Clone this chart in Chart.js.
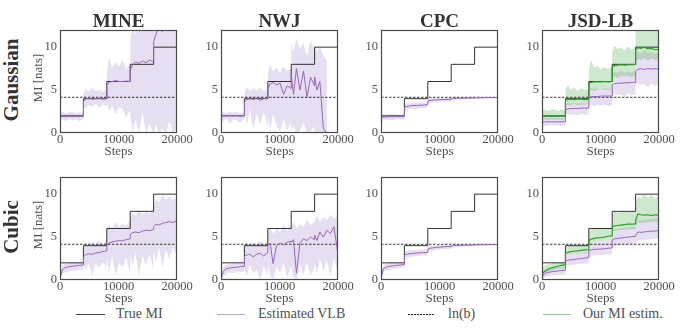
<!DOCTYPE html>
<html>
<head>
<meta charset="utf-8">
<script src="https://cdn.jsdelivr.net/npm/chart.js@4.4.1/dist/chart.umd.min.js"></script>
<style>
  body { margin: 0; background: #fff; }
  #fig { position: relative; width: 682px; height: 329px; overflow: hidden; font-family: 'Liberation Serif', serif; color: #333; }
  #fig canvas { position: absolute; }
  .lbl { position: absolute; white-space: nowrap; line-height: 1; transform: translate(-50%, -50%); }
  .title { font-weight: bold; font-size: 19px; }
  .row { font-weight: bold; font-size: 21px; transform: translate(-50%, -50%) rotate(-90deg); }
  .ylab { font-size: 13px; color: #505050; transform: translate(-50%, -50%) rotate(-90deg); }
  .sw { position: absolute; height: 1px; top: 314px; }
  .lt { position: absolute; top: 314px; font-size: 14px; color: #505050; line-height: 1; transform: translateY(-50%); white-space: nowrap; }
</style>
</head>
<body>
<div id="fig">
  <div class="sw" style="left:76px;width:29px;background:#444"></div>
  <div class="lt" style="left:116px">True MI</div>
  <div class="sw" style="left:217px;width:28px;background:#b9a2d6"></div>
  <div class="lt" style="left:258px">Estimated VLB</div>
  <div class="sw" style="left:408px;width:27px;background:repeating-linear-gradient(to right,#222 0 2px,transparent 2px 3px)"></div>
  <div class="lt" style="left:448px">ln(b)</div>
  <div class="sw" style="left:543px;width:28px;background:#8ccf8c"></div>
  <div class="lt" style="left:583px">Our MI estim.</div>
</div>
<script>
// Column titles and row labels
const methods = ['MINE', 'NWJ', 'CPC', 'JSD-LB'];
const distributions = ['Gaussian', 'Cubic'];

// Axis ticks
const xTicks = [0, 10000, 20000];
const yTicks = [0, 5, 10];

// True MI schedule (steps where the target MI changes)
const trueMiSteps = [0, 4000, 8000, 12000, 16000, 20000];
const trueMi = [2, 4, 6, 8, 10, 10];
const lnB = 4.16; // ln(64)

// Training steps at which the estimates are sampled
const steps = [0, 400, 900, 1500, 2100, 2700, 3300, 3990,
  4010, 4400, 4900, 5500, 6100, 6700, 7300, 7990,
  8010, 8400, 8900, 9500, 10100, 10700, 11300, 11990,
  12010, 12400, 12900, 13500, 14100, 14700, 15300, 15990,
  16010, 16400, 16900, 17500, 18100, 18700, 19300, 20000];

// Gaussian / MINE
const gaussMineVlb = [1.9, 1.95, 1.9, 1.95, 1.9, 1.95, 1.9, 1.95,
  3.7, 3.95, 4.05, 3.95, 4.0, 4.05, 3.95, 4.0,
  5.6, 5.9, 6.0, 6.1, 6.0, 6.0, 6.05, 6.0,
  7.3, 7.9, 8.3, 8.1, 8.4, 8.2, 8.5, 8.3,
  10.6, 11.5, 12.4, 11.8, 12.5, 12.2, 11.9, 12.3];
const gaussMineHi = [2.3, 2.5, 2.3, 2.4, 2.5, 2.3, 2.4, 2.3,
  4.6, 5.2, 4.8, 5.3, 4.9, 5.1, 4.8, 5.2,
  7.2, 8.8, 7.6, 8.2, 7.8, 8.5, 7.5, 8.0,
  10.5, 12.5, 11.5, 12.5, 12.5, 12.0, 12.5, 12.5,
  12.5, 12.5, 12.5, 12.5, 12.5, 12.5, 12.5, 12.5];
const gaussMineLo = [1.5, 1.6, 1.4, 1.6, 1.5, 1.6, 1.4, 1.6,
  3.2, 2.8, 3.3, 3.0, 3.4, 2.9, 3.3, 3.1,
  3.5, 2.5, 3.2, 2.2, 3.0, 2.8, 1.8, 2.6,
  2.0, 0, 1.5, 0, 2.5, 0, 1.0, 0,
  0, 1.0, 0, 0.5, 0, 1.5, 0, 0.5];

// Gaussian / NWJ (diverges near the end of training)
const gaussNwjVlb = [2.0, 2.05, 2.0, 2.05, 2.0, 2.05, 2.0, 2.05,
  3.6, 3.9, 4.0, 3.9, 4.1, 3.8, 4.0, 4.1,
  5.2, 5.7, 5.9, 5.6, 5.8, 4.5, 5.5, 5.2,
  6.8, 4.5, 7.5, 5.0, 7.2, 4.2, 6.5, 5.5,
  6.5, 5.0, 6.0, 0.5, 0, null, null, null];
const gaussNwjHi = [2.4, 2.5, 2.3, 2.5, 2.4, 2.5, 2.3, 2.4,
  4.8, 5.3, 4.9, 5.2, 5.0, 5.3, 4.9, 5.1,
  7.0, 8.0, 7.2, 7.6, 7.0, 7.8, 7.2, 7.5,
  10.5, 9.5, 11.0, 9.8, 10.5, 9.0, 10.8, 9.6,
  10.5, 9.5, 10.0, 9.0, 8.5, null, null, null];
const gaussNwjLo = [1.6, 1.3, 1.7, 1.0, 1.6, 1.5, 1.2, 1.6,
  2.5, 0.8, 2.8, 0.4, 2.2, 1.0, 2.5, 0.6,
  1.8, 0.3, 2.2, 0.8, 0.2, 1.6, 0.3, 1.2,
  0.4, 0.8, 0, 0.3, 1.2, 0, 0.2, 0.8,
  0, 0, 0, 0, 0, null, null, null];

// Gaussian / CPC (saturates at ln(b))
const gaussCpcVlb = [1.8, 1.85, 1.85, 1.9, 1.9, 1.9, 1.9, 1.9,
  3.0, 3.1, 3.15, 3.2, 3.2, 3.25, 3.25, 3.3,
  3.75, 3.8, 3.85, 3.85, 3.9, 3.9, 3.9, 3.95,
  4.0, 4.02, 4.03, 4.05, 4.05, 4.06, 4.07, 4.08,
  4.1, 4.1, 4.11, 4.12, 4.12, 4.13, 4.13, 4.14];
const gaussCpcHi = [2.15, 2.2, 2.1, 2.2, 2.15, 2.2, 2.1, 2.2,
  3.4, 3.5, 3.45, 3.55, 3.5, 3.6, 3.5, 3.6,
  4.0, 4.05, 4.05, 4.1, 4.05, 4.1, 4.1, 4.1,
  4.12, 4.12, 4.13, 4.14, 4.13, 4.14, 4.14, 4.15,
  4.16, 4.16, 4.16, 4.16, 4.16, 4.16, 4.16, 4.16];
const gaussCpcLo = [1.3, 1.45, 1.5, 1.55, 1.5, 1.6, 1.55, 1.6,
  2.6, 2.75, 2.8, 2.85, 2.8, 2.9, 2.9, 2.95,
  3.4, 3.5, 3.6, 3.55, 3.6, 3.65, 3.7, 3.7,
  3.8, 3.85, 3.9, 3.9, 3.92, 3.95, 3.95, 3.96,
  3.95, 3.98, 4.0, 4.0, 4.02, 4.02, 4.03, 4.03];

// Gaussian / JSD-LB: VLB and our MI estimate
const gaussJsdVlb = [1.25, 1.3, 1.3, 1.3, 1.3, 1.3, 1.3, 1.3,
  2.7, 2.8, 2.85, 2.85, 2.85, 2.9, 2.9, 2.9,
  4.1, 4.2, 4.25, 4.25, 4.3, 4.3, 4.3, 4.3,
  5.6, 5.75, 5.8, 5.8, 5.85, 5.85, 5.9, 5.9,
  7.2, 7.4, 7.5, 7.4, 7.5, 7.45, 7.5, 7.4];
const gaussJsdHi = [1.7, 1.8, 1.7, 1.8, 1.7, 1.8, 1.7, 1.8,
  3.3, 3.5, 3.4, 3.5, 3.4, 3.5, 3.4, 3.5,
  5.0, 5.3, 5.1, 5.2, 5.0, 5.3, 5.1, 5.2,
  6.8, 7.2, 7.0, 7.3, 7.0, 7.2, 7.0, 7.3,
  9.0, 9.5, 9.2, 9.6, 9.3, 9.5, 9.2, 9.5];
const gaussJsdLo = [0.8, 0.9, 0.8, 0.95, 0.85, 0.9, 0.8, 0.9,
  2.0, 2.2, 2.1, 2.2, 2.0, 2.2, 2.1, 2.2,
  3.0, 3.3, 3.1, 3.3, 3.2, 3.3, 3.1, 3.3,
  4.3, 4.6, 4.4, 4.5, 4.2, 4.6, 4.4, 4.5,
  5.5, 5.8, 5.6, 5.7, 5.3, 5.8, 5.5, 5.7];
const gaussJsdMi = [1.9, 1.95, 1.95, 1.95, 2.0, 1.95, 2.0, 1.95,
  3.8, 3.9, 3.95, 3.9, 3.95, 3.95, 3.9, 3.95,
  5.8, 5.9, 5.95, 5.95, 5.95, 6.0, 5.95, 6.0,
  7.7, 7.85, 7.9, 7.95, 7.9, 7.95, 7.95, 8.0,
  9.7, 9.95, 9.85, 10.0, 9.8, 9.85, 9.7, 9.75];
const gaussJsdMiHi = [2.6, 2.8, 2.6, 2.7, 2.8, 2.6, 2.7, 2.6,
  5.0, 5.6, 5.0, 5.3, 4.9, 5.2, 5.0, 5.1,
  7.5, 8.5, 7.6, 7.8, 7.4, 7.7, 7.5, 7.6,
  9.5, 10.2, 9.8, 10.0, 9.6, 10.1, 9.7, 9.9,
  12.5, 12.0, 12.5, 11.8, 12.5, 12.0, 12.5, 12.2];
const gaussJsdMiLo = [1.5, 1.6, 1.5, 1.6, 1.5, 1.6, 1.5, 1.6,
  3.2, 3.3, 3.2, 3.4, 3.2, 3.3, 3.3, 3.4,
  4.8, 5.0, 4.9, 5.1, 5.0, 5.1, 5.0, 5.1,
  6.5, 6.6, 6.4, 6.7, 6.6, 6.7, 6.5, 6.7,
  8.3, 8.6, 8.5, 8.7, 8.4, 8.7, 8.5, 8.6];

// Cubic / MINE
const cubicMineVlb = [0.2, 1.2, 1.45, 1.55, 1.6, 1.65, 1.7, 1.75,
  2.7, 2.95, 3.05, 3.0, 3.15, 3.2, 3.3, 3.4,
  4.1, 4.3, 4.45, 4.5, 4.6, 4.55, 4.7, 4.8,
  5.3, 5.5, 5.6, 5.5, 5.7, 5.8, 5.75, 5.9,
  6.2, 6.5, 6.4, 6.6, 6.7, 6.8, 6.7, 6.9];
const cubicMineHi = [0.8, 1.7, 1.9, 2.0, 2.0, 2.1, 2.0, 2.1,
  3.8, 4.3, 4.0, 4.5, 4.1, 4.6, 4.2, 4.5,
  5.8, 6.5, 6.0, 6.8, 6.2, 6.6, 6.3, 7.0,
  7.2, 7.8, 7.5, 8.2, 7.6, 8.0, 7.7, 8.3,
  8.5, 9.5, 9.0, 10.0, 9.3, 9.8, 9.2, 9.8];
const cubicMineLo = [0, 0.6, 0.9, 1.0, 1.1, 1.1, 1.2, 1.2,
  1.8, 1.2, 2.0, 0.5, 1.9, 1.4, 2.1, 1.5,
  2.5, 1.0, 2.8, 0.5, 2.0, 1.5, 2.6, 0.8,
  3.0, 1.5, 3.2, 0.5, 2.8, 1.8, 3.0, 1.2,
  3.5, 2.0, 3.8, 1.5, 3.5, 2.5, 3.8, 2.8];

// Cubic / NWJ
const cubicNwjVlb = [0.2, 1.0, 1.3, 1.4, 1.45, 1.5, 1.55, 1.6,
  2.8, 2.9, 3.0, 2.7, 3.0, 3.1, 2.8, 3.2,
  4.0, 4.3, 1.9, 4.0, 4.3, 4.1, 4.4, 4.5,
  4.4, 4.7, 0.8, 4.3, 4.8, 4.6, 5.0, 4.7,
  5.2, 4.6, 5.6, 5.0, 5.8, 5.4, 6.2, 3.0];
const cubicNwjHi = [0.8, 1.6, 1.8, 1.9, 1.9, 2.0, 1.9, 2.0,
  4.0, 4.5, 3.8, 4.4, 3.9, 4.6, 4.0, 4.5,
  5.5, 6.2, 5.4, 6.0, 5.6, 6.5, 5.7, 6.3,
  6.2, 6.8, 6.0, 6.5, 6.2, 7.0, 6.4, 6.8,
  7.0, 7.5, 6.8, 7.3, 7.0, 7.6, 7.2, 7.4];
const cubicNwjLo = [0, 0.4, 0.7, 0.9, 0.8, 1.0, 0.9, 1.0,
  1.5, 0.3, 1.8, 0.8, 1.2, 0, 1.6, 0.5,
  2.0, 0.5, 0, 1.5, 0.8, 2.0, 0.3, 1.6,
  1.5, 0.3, 0, 1.8, 0.6, 2.0, 0.5, 1.5,
  2.0, 0.8, 2.5, 1.0, 2.2, 0.5, 2.5, 1.0];

// Cubic / CPC
const cubicCpcVlb = [0.2, 1.3, 1.5, 1.6, 1.65, 1.7, 1.75, 1.8,
  2.9, 3.0, 3.05, 3.1, 3.15, 3.15, 3.2, 3.2,
  3.6, 3.7, 3.75, 3.8, 3.85, 3.85, 3.9, 3.9,
  3.95, 4.0, 4.02, 4.04, 4.05, 4.06, 4.07, 4.08,
  4.09, 4.1, 4.11, 4.12, 4.12, 4.13, 4.13, 4.14];
const cubicCpcHi = [0.7, 1.7, 1.9, 1.95, 2.0, 2.0, 2.05, 2.05,
  3.3, 3.4, 3.45, 3.5, 3.5, 3.55, 3.55, 3.6,
  3.9, 4.0, 4.0, 4.05, 4.05, 4.1, 4.1, 4.1,
  4.12, 4.13, 4.13, 4.14, 4.14, 4.15, 4.15, 4.15,
  4.16, 4.16, 4.16, 4.16, 4.16, 4.16, 4.16, 4.16];
const cubicCpcLo = [0, 0.9, 1.1, 1.2, 1.3, 1.35, 1.4, 1.45,
  2.5, 2.6, 2.7, 2.75, 2.8, 2.8, 2.85, 2.85,
  3.3, 3.4, 3.45, 3.5, 3.55, 3.6, 3.6, 3.65,
  3.75, 3.8, 3.85, 3.88, 3.9, 3.92, 3.93, 3.95,
  3.95, 3.97, 3.98, 4.0, 4.0, 4.02, 4.02, 4.03];

// Cubic / JSD-LB: VLB and our MI estimate
const cubicJsdVlb = [0.35, 0.7, 0.85, 0.95, 1.0, 1.05, 1.1, 1.15,
  2.2, 2.3, 2.35, 2.4, 2.45, 2.5, 2.55, 2.6,
  3.4, 3.5, 3.55, 3.6, 3.6, 3.65, 3.7, 3.75,
  4.7, 4.8, 4.85, 4.9, 4.95, 5.0, 5.05, 5.1,
  5.2, 5.6, 5.55, 5.6, 5.65, 5.7, 5.7, 5.75];
const cubicJsdHi = [0.8, 1.1, 1.3, 1.4, 1.4, 1.5, 1.5, 1.6,
  2.8, 2.9, 3.0, 3.0, 3.1, 3.1, 3.2, 3.2,
  4.2, 4.3, 4.4, 4.4, 4.5, 4.5, 4.6, 4.6,
  5.7, 5.9, 5.9, 6.0, 6.1, 6.1, 6.2, 6.2,
  6.5, 7.0, 6.9, 7.0, 7.1, 7.1, 7.2, 7.2];
const cubicJsdLo = [0, 0.3, 0.4, 0.5, 0.55, 0.6, 0.6, 0.65,
  1.6, 1.7, 1.75, 1.8, 1.85, 1.9, 1.9, 1.95,
  2.6, 2.8, 2.85, 2.9, 2.9, 2.95, 3.0, 3.0,
  3.8, 4.0, 4.0, 4.1, 4.1, 4.15, 4.2, 4.2,
  4.3, 4.6, 4.6, 4.7, 4.7, 4.8, 4.8, 4.9];
const cubicJsdMi = [0.7, 1.0, 1.2, 1.4, 1.5, 1.6, 1.7, 1.8,
  3.1, 3.2, 3.3, 3.35, 3.4, 3.45, 3.5, 3.55,
  4.6, 4.75, 4.85, 4.9, 4.95, 5.0, 5.1, 5.15,
  6.2, 6.3, 6.35, 6.4, 6.45, 6.5, 6.5, 6.55,
  7.0, 7.7, 7.6, 7.55, 7.6, 7.5, 7.6, 7.55];
const cubicJsdMiHi = [1.3, 1.6, 1.8, 1.9, 2.0, 2.0, 2.0, 2.0,
  3.8, 3.9, 4.0, 4.0, 4.0, 4.0, 4.0, 4.0,
  5.7, 5.9, 6.0, 6.0, 6.0, 6.0, 6.0, 6.0,
  7.6, 8.0, 7.8, 8.0, 7.9, 8.0, 7.9, 8.0,
  9.0, 9.8, 9.5, 10.0, 9.6, 9.9, 9.5, 9.8];
const cubicJsdMiLo = [0.4, 0.7, 0.9, 1.1, 1.2, 1.3, 1.35, 1.4,
  2.8, 2.9, 3.0, 3.0, 3.05, 3.1, 3.1, 3.15,
  4.2, 4.3, 4.4, 4.45, 4.5, 4.55, 4.6, 4.6,
  5.6, 5.7, 5.8, 5.8, 5.85, 5.9, 5.9, 5.95,
  6.3, 6.7, 6.6, 6.7, 6.7, 6.8, 6.8, 6.8];

// Which series go in which subplot
const panels = [
  { row: 0, col: 0, vlb: [gaussMineVlb, gaussMineLo, gaussMineHi] },
  { row: 0, col: 1, vlb: [gaussNwjVlb, gaussNwjLo, gaussNwjHi] },
  { row: 0, col: 2, vlb: [gaussCpcVlb, gaussCpcLo, gaussCpcHi] },
  { row: 0, col: 3, vlb: [gaussJsdVlb, gaussJsdLo, gaussJsdHi], mi: [gaussJsdMi, gaussJsdMiLo, gaussJsdMiHi] },
  { row: 1, col: 0, vlb: [cubicMineVlb, cubicMineLo, cubicMineHi] },
  { row: 1, col: 1, vlb: [cubicNwjVlb, cubicNwjLo, cubicNwjHi] },
  { row: 1, col: 2, vlb: [cubicCpcVlb, cubicCpcLo, cubicCpcHi] },
  { row: 1, col: 3, vlb: [cubicJsdVlb, cubicJsdLo, cubicJsdHi], mi: [cubicJsdMi, cubicJsdMiLo, cubicJsdMiHi] }
];

// Layout of the grid (plot-area corners in page pixels)
const colLeft = [60, 221, 381, 542];
const rowTop = [30, 177];
const plotW = 117;
const plotH = 103;
const padL = 32, padT = 6, padR = 22, axisH = 30;

const SERIF = "'Liberation Serif', serif";
const TEXT = '#505050';
const PURPLE = '#9467bd';
const PURPLE_BAND = 'rgba(148, 103, 189, 0.22)';
const GREEN = '#2ca02c';
const GREEN_BAND = 'rgba(44, 160, 44, 0.24)';

const fig = document.getElementById('fig');

function addLabel(text, cls, x, y) {
    const el = document.createElement('div');
    el.className = 'lbl ' + cls;
    el.textContent = text;
    el.style.left = x + 'px';
    el.style.top = y + 'px';
    fig.appendChild(el);
}

function pts(vals) {
    return steps.map((s, i) => ({ x: s, y: vals[i] }));
}

// Box around each plot area
const frameBox = {
    id: 'frameBox',
    afterDatasetsDraw(chart) {
        const { ctx, chartArea: a } = chart;
        ctx.save();
        ctx.strokeStyle = '#4a4a4a';
        ctx.lineWidth = 1.2;
        ctx.strokeRect(a.left + 0.5, a.top + 0.5, a.right - a.left - 1, a.bottom - a.top - 1);
        ctx.restore();
    }
};

function bandSets(lo, hi, color) {
    return [
        { data: pts(hi), borderWidth: 0, pointRadius: 0, backgroundColor: color, fill: '+1' },
        { data: pts(lo), borderWidth: 0, pointRadius: 0, fill: false }
    ];
}

const tickFont = { family: SERIF, size: 12.5, weight: 'normal', lineHeight: 1 };

function buildPanel(p) {
    const left = colLeft[p.col];
    const top = rowTop[p.row];
    const canvas = document.createElement('canvas');
    canvas.width = padL + plotW + padR;
    canvas.height = padT + plotH + axisH;
    canvas.style.left = (left - padL) + 'px';
    canvas.style.top = (top - padT) + 'px';
    fig.appendChild(canvas);

    const datasets = [];
    if (p.mi) {
        datasets.push({ data: pts(p.mi[0]), borderColor: GREEN, borderWidth: 1.2, pointRadius: 0 });
    }
    datasets.push({ data: pts(p.vlb[0]), borderColor: PURPLE, borderWidth: 1, pointRadius: 0 });
    datasets.push({
        data: trueMiSteps.map((s, i) => ({ x: s, y: trueMi[i] })),
        borderColor: '#333', borderWidth: 1, pointRadius: 0, stepped: 'before'
    });
    datasets.push({
        data: [{ x: 0, y: lnB }, { x: 20000, y: lnB }],
        borderColor: '#222', borderWidth: 0.9, borderDash: [2.5, 1.5], pointRadius: 0
    });
    if (p.mi) datasets.push(...bandSets(p.mi[1], p.mi[2], GREEN_BAND));
    datasets.push(...bandSets(p.vlb[1], p.vlb[2], PURPLE_BAND));

    new Chart(canvas, {
        type: 'line',
        data: { datasets },
        options: {
            responsive: false,
            animation: false,
            events: [],
            layout: { padding: { left: 0, top: padT, right: padR, bottom: 0 } },
            plugins: { legend: { display: false }, tooltip: { enabled: false } },
            elements: { line: { tension: 0 } },
            scales: {
                x: {
                    type: 'linear', min: 0, max: 20000,
                    grid: { display: false, drawTicks: false },
                    border: { display: false },
                    afterBuildTicks: s => { s.ticks = xTicks.map(v => ({ value: v })); },
                    afterFit: s => { s.height = axisH; s.paddingLeft = 0; s.paddingRight = 0; },
                    ticks: {
                        autoSkip: false, maxRotation: 0, padding: 0, color: TEXT,
                        font: tickFont,
                        callback: v => String(v)
                    },
                    title: {
                        display: true, text: 'Steps', color: TEXT,
                        font: { family: SERIF, size: 13, weight: 'normal', lineHeight: 1 },
                        padding: { top: 0, bottom: 4.5 }
                    }
                },
                y: {
                    min: 0, max: 12,
                    grid: { display: false, drawTicks: false },
                    border: { display: false },
                    afterBuildTicks: s => { s.ticks = yTicks.map(v => ({ value: v })); },
                    afterFit: s => { s.width = padL; s.paddingTop = 0; s.paddingBottom = 0; },
                    ticks: {
                        autoSkip: false, padding: 3, color: TEXT,
                        font: tickFont,
                        callback: v => String(v)
                    }
                }
            }
        },
        plugins: [frameBox]
    });
}

panels.forEach(buildPanel);

// Column titles, row labels and y-axis label
methods.forEach((m, c) => addLabel(m, 'title', colLeft[c] + plotW / 2, 20));
distributions.forEach((d, r) => {
    addLabel(d, 'row', 11, rowTop[r] + plotH / 2 - 2);
    addLabel('MI [nats]', 'ylab', 37, rowTop[r] + plotH / 2 - 4);
});
</script>
</body>
</html>
